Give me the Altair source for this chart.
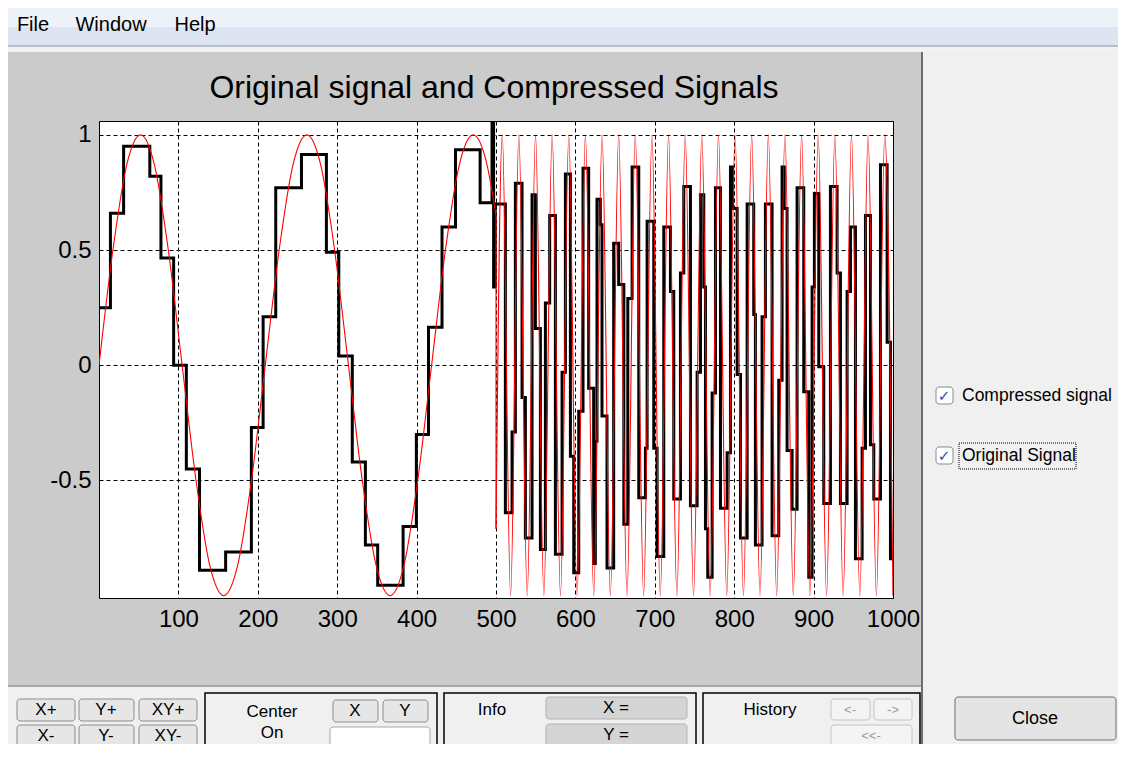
import altair as alt
import pandas as pd

# ------------------------------------------------------------------ data
# Original signal, first part (slow sine)
red1_x = [0, 17.5, 34.9, 52.4, 69.8, 87.3, 104.7, 122.2, 139.6, 157.1, 174.5, 192.0,
          209.4, 226.9, 244.3, 261.8, 279.2, 296.7, 314.2, 331.6, 349.1, 366.5, 384.0,
          401.4, 418.9, 436.3, 453.8, 471.2, 488.7, 500]
red1_y = [0, 0.5, 0.87, 1, 0.87, 0.5, 0, -0.5, -0.87, -1, -0.87, -0.5,
          0, 0.5, 0.87, 1, 0.87, 0.5, 0, -0.5, -0.87, -1, -0.87,
          -0.5, 0, 0.5, 0.87, 1, 0.87, 0.65]
# jump at x = 500
red_jump_x = [500, 500]
red_jump_y = [0.65, -0.71]
# Original signal, second part (fast sine): start, then peaks / troughs
red2_x = [500, 507.9, 518.4, 528.8, 539.3, 549.8, 560.3, 570.7, 581.2, 591.7, 602.1,
          612.6, 623.1, 633.6, 644.0, 654.5, 665.0, 675.4, 685.9, 696.4, 706.9, 717.3,
          727.8, 738.3, 748.8, 759.2, 769.7, 780.2, 790.6, 801.1, 811.6, 822.0, 832.5,
          843.0, 853.5, 863.9, 874.4, 884.9, 895.4, 905.8, 916.3, 926.8, 937.2, 947.7,
          958.2, 968.6, 979.1, 989.6, 1000]
red2_y = [-0.71, 1, -1, 1, -1, 1, -1, 1, -1, 1, -1,
          1, -1, 1, -1, 1, -1, 1, -1, 1, -1, 1,
          -1, 1, -1, 1, -1, 1, -1, 1, -1, 1, -1,
          1, -1, 1, -1, 1, -1, 1, -1, 1, -1, 1,
          -1, 1, -1, 1, -1]

# Compressed signal: step starts and held values
black_x = [0, 14.4, 31, 64, 78, 94, 110, 126.6, 159.5, 191.9, 206.7, 222.6, 255, 286.4,
           302, 319, 335.5, 351, 383, 399.7, 415, 432, 449, 480, 495, 497, 499,
           511.8, 520.2, 524.4, 532.8, 537, 545.4, 549.6, 555.9, 562.2, 567.6, 574.8,
           583.2, 587.4, 593.7, 597.9, 604.2, 609.6, 616.7, 623, 625.1, 627.2, 631.4,
           633.5, 639.8, 648.2, 654.5, 661, 666, 671.4, 679.8, 688.2, 690.3, 698.7,
           702.9, 711.3, 719.7, 723.9, 732.3, 736.5, 744.9, 753.3, 757.5, 761.7, 763.8,
           766.7, 772.2, 776.4, 782.7, 791.1, 795.3, 798, 803.7, 807.9, 816.3, 824.6,
           826.7, 835.1, 839.3, 847.7, 856.1, 860.3, 863, 866.6, 872.9, 879.2, 887.6,
           893.9, 898.1, 901, 906.5, 912.8, 921.2, 929.6, 933.8, 942.2, 946.4, 952.7,
           961.1, 965.3, 971.6, 975.8, 984.2, 992.6, 996.8, 1000]
black_y = [0.25, 0.66, 0.95, 0.82, 0.465, 0.0, -0.45, -0.89, -0.81, -0.27, 0.21, 0.77, 0.915, 0.49,
           0.04, -0.42, -0.78, -0.955, -0.70, -0.30, 0.165, 0.60, 0.935, 0.705, 1.06, 0.34, 0.70,
           -0.64, -0.29, 0.79, -0.14, -0.75, 0.74, 0.16, -0.80, 0.27, 0.65, -0.82,
           -0.03, 0.83, -0.395, -0.90, -0.20, 0.855, -0.10, -0.86, -0.33, 0.72, 0.61,
           -0.22, -0.88, 0.53, 0.35, -0.69, 0.29, 0.86, -0.575, -0.36, 0.625, -0.36,
           -0.83, 0.60, 0.32, -0.58, 0.40, 0.776, -0.61, -0.03, 0.74, 0.34, -0.71,
           -0.92, -0.12, 0.77, -0.62, -0.38, 0.86, 0.68, -0.04, -0.75, 0.70, 0.22,
           -0.78, 0.21, 0.70, -0.74, -0.065, 0.86, 0.68, -0.37, -0.625, 0.77, -0.115,
           -0.92, 0.34, 0.745, -0.007, -0.60, 0.776, 0.40, -0.60, 0.32, 0.60, -0.84,
           -0.36, 0.65, -0.345, -0.58, 0.87, 0.10, -0.84, -0.84]

x_ticks = [100, 200, 300, 400, 500, 600, 700, 800, 900, 1000]
y_ticks = [-0.5, 0, 0.5, 1]
title_text = "Original signal and Compressed Signals"
legend_labels = ["Compressed signal", "Original Signal"]

# ------------------------------------------------------------------ layout
W, H = 794, 477
OX, OY = 99, 121          # page position of the plot area
UI_FONT = "Liberation Sans, Arial, sans-serif"

red_df = pd.concat([
    pd.DataFrame({"x": red1_x, "y": red1_y, "seg": "a"}),
    pd.DataFrame({"x": red_jump_x, "y": red_jump_y, "seg": "b"}),
    pd.DataFrame({"x": red2_x, "y": red2_y, "seg": "c"}),
], ignore_index=True)
black_df = pd.DataFrame({"x": black_x, "y": black_y})

xs = alt.Scale(domain=[0, 1000], nice=False, zero=False)
ys = alt.Scale(domain=[-1.01, 1.06], nice=False, zero=False)

x_axis = alt.Axis(values=x_ticks, title=None, grid=True, gridDash=[4, 3], gridColor="black",
                  gridOpacity=1, gridWidth=1, ticks=False, domain=False, labelFont=UI_FONT,
                  labelFontSize=24, labelColor="black", labelPadding=9, labelOverlap=False,
                  labelFlush=False, format="d")
y_axis = alt.Axis(values=y_ticks, title=None, grid=True, gridDash=[4, 3], gridColor="black",
                  gridOpacity=1, gridWidth=1, ticks=False, domain=False, labelFont=UI_FONT,
                  labelFontSize=24, labelColor="black", labelPadding=8, labelOverlap=False,
                  labelExpr="datum.value < 0 ? '-' + format(-datum.value, '~g') : format(datum.value, '~g')")

black_line = alt.Chart(black_df).mark_line(
    color="black", strokeWidth=3, interpolate="step-after", clip=True
).encode(x=alt.X("x:Q", scale=xs, axis=x_axis), y=alt.Y("y:Q", scale=ys, axis=y_axis))

red_line = alt.Chart(red_df).mark_line(
    color="#ff0000", strokeWidth=1.1, interpolate="monotone", clip=True
).encode(x=alt.X("x:Q", scale=xs), y=alt.Y("y:Q", scale=ys), detail="seg:N")


# ------------------------------------------------------------------ window chrome
def rect_layer(rows, **kw):
    df = pd.DataFrame(rows, columns=["x1", "y1", "x2", "y2", "fill", "stroke"])
    df[["x1", "x2"]] = df[["x1", "x2"]] - OX
    df[["y1", "y2"]] = df[["y1", "y2"]] - OY
    return alt.Chart(df).mark_rect(**kw).encode(
        x=alt.X("x1:Q", scale=None, axis=None), x2="x2:Q",
        y=alt.Y("y1:Q", scale=None, axis=None), y2="y2:Q",
        fill=alt.Fill("fill:N", scale=None), stroke=alt.Stroke("stroke:N", scale=None))


def text_layer(rows, align="center", font=UI_FONT, **kw):
    df = pd.DataFrame(rows, columns=["t", "x", "y", "size", "color"])
    df["x"] = df["x"] - OX
    df["y"] = df["y"] - OY
    return alt.Chart(df).mark_text(align=align, baseline="middle", font=font, **kw).encode(
        x=alt.X("x:Q", scale=None, axis=None), y=alt.Y("y:Q", scale=None, axis=None),
        text="t:N", size=alt.Size("size:Q", scale=None), color=alt.Color("color:N", scale=None))


panels = rect_layer([
    (8, 8, 1120, 27, "#edf1f8", "#edf1f8"),
    (8, 27, 1120, 45, "#dde4f1", "#dde4f1"),
    (8, 45, 1120, 47, "#b9bfc9", "#b9bfc9"),
    (8, 47, 1120, 52, "#f2f2f2", "#f2f2f2"),
    (923, 52, 1120, 760, "#f0f0f0", "#f0f0f0"),
    (921, 52, 923, 760, "#6e6e6e", "#6e6e6e"),
    (8, 687, 921, 760, "#f0f0f0", "#f0f0f0"),
    (8, 685, 921, 687, "#a8a8a8", "#a8a8a8"),
], strokeWidth=0)

frames = rect_layer([
    (205, 693, 437, 770, "transparent", "#000000"),
    (444, 693, 696, 770, "transparent", "#000000"),
    (703, 693, 920, 770, "transparent", "#000000"),
], strokeWidth=1.5)

buttons = rect_layer([
    (17, 699, 75, 721, "#e6e6e6", "#8c8c8c"),
    (79, 699, 134, 721, "#e6e6e6", "#8c8c8c"),
    (139, 699, 197, 721, "#e6e6e6", "#8c8c8c"),
    (17, 725, 75, 747, "#e6e6e6", "#8c8c8c"),
    (79, 725, 134, 747, "#e6e6e6", "#8c8c8c"),
    (139, 725, 197, 747, "#e6e6e6", "#8c8c8c"),
    (333, 700, 378, 722, "#e6e6e6", "#8c8c8c"),
    (383, 700, 428, 722, "#e6e6e6", "#8c8c8c"),
    (330, 727, 430, 770, "#ffffff", "#a8a8a8"),
    (546, 697, 687, 719, "#d4d4d4", "#b4b4b4"),
    (546, 724, 687, 746, "#d4d4d4", "#b4b4b4"),
    (831, 699, 870, 720, "#f4f4f4", "#c4c4c4"),
    (874, 699, 912, 720, "#f4f4f4", "#c4c4c4"),
    (831, 725, 912, 746, "#f4f4f4", "#c4c4c4"),
    (955, 697, 1116, 740, "#e4e4e4", "#707070"),
    (936, 387, 953, 404, "#ffffff", "#8a8a8a"),
    (936, 447, 953, 464, "#ffffff", "#8a8a8a"),
], strokeWidth=1, cornerRadius=3)

focus = rect_layer([(959, 443, 1076, 469, "transparent", "#000000")],
                   strokeWidth=1, strokeDash=[1, 1])

menu_text = text_layer([
    ("File", 33, 25, 20, "#000000"),
    ("Window", 111, 25, 20, "#000000"),
    ("Help", 195, 25, 20, "#000000"),
])

ui_text = text_layer([
    ("X+", 46, 710, 17, "#000000"), ("Y+", 106, 710, 17, "#000000"),
    ("XY+", 168, 710, 17, "#000000"), ("X-", 46, 736, 17, "#000000"),
    ("Y-", 106, 736, 17, "#000000"), ("XY-", 168, 736, 17, "#000000"),
    ("Center", 272, 712, 17, "#000000"), ("On", 272, 733, 17, "#000000"),
    ("X", 355, 711, 17, "#000000"), ("Y", 405, 711, 17, "#000000"),
    ("Info", 492, 710, 17, "#000000"),
    ("X =", 616, 708, 17, "#000000"), ("Y =", 616, 735, 17, "#000000"),
    ("History", 770, 710, 17, "#000000"),
    ("<-", 850, 710, 13, "#9a9a9a"), ("->", 893, 710, 13, "#9a9a9a"),
    ("<<-", 871, 736, 13, "#9a9a9a"),
    ("Close", 1035, 719, 18, "#000000"),
])

legend_text = text_layer([
    (legend_labels[0], 962, 396, 17.5, "#000000"),
    (legend_labels[1], 962, 456, 17.5, "#000000"),
], align="left")

checks = text_layer([
    ("\u2713", 944, 396, 15, "#2f4fb0"),
    ("\u2713", 944, 456, 15, "#2f4fb0"),
], font="DejaVu Sans", fontWeight="bold")

title = alt.Chart(pd.DataFrame({"t": [title_text]})).mark_text(
    font=UI_FONT, fontSize=32, color="black", align="center", baseline="alphabetic"
).encode(x=alt.value(395), y=alt.value(-23), text="t:N")

chart = alt.layer(
    panels, frames, buttons, focus, menu_text, ui_text, legend_text, checks, title,
    black_line, red_line
).properties(
    width=W, height=H, autosize="none",
    padding={"left": 91, "top": 113, "right": 225, "bottom": 146},
    background="#cbcbcb",
).configure_view(fill="white", stroke="black", strokeWidth=1)

chart.save("out.html", embed_options={"renderer": "svg", "actions": False})
